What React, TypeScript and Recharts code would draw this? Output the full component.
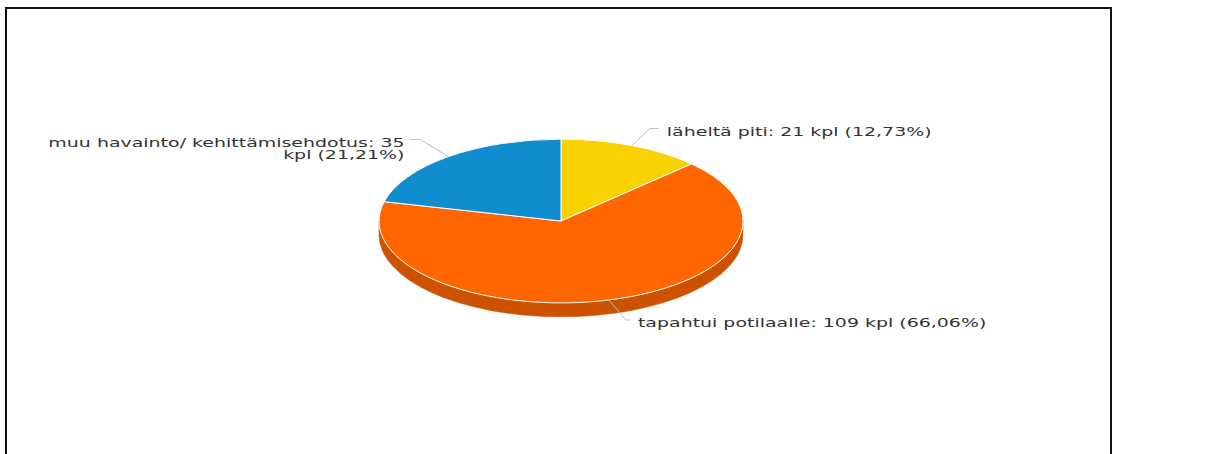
import React from 'react';
import { PieChart, Pie, Cell } from 'recharts';

// ---- data ----
const CATEGORIES = ['läheltä piti', 'tapahtui potilaalle', 'muu havainto/ kehittämisehdotus'];
const VALUES = [21, 109, 35];
const UNIT = 'kpl';

// ---- styles ----
const COLORS = ['#F9D100', '#FF6600', '#0F8DCE'];
const SIDE_COLORS = ['#C7A600', '#CC5200', '#0B6EA2'];
const TEXT_COLOR = '#333333';
const CONNECTOR_COLOR = '#bdbdbd';
const TILT = 0.45;
const DEPTH = 14;
const SX = 1.58;
const FONT = 12;
const LINE_H = 12.5;
const MAX_CHARS = 37;

const data = CATEGORIES.map((name, i) => ({ name, value: VALUES[i] }));
const TOTAL = VALUES.reduce((a, b) => a + b, 0);

const rad = (d: number) => (d * Math.PI) / 180;
const pt = (cx: number, cy: number, rx: number, ry: number, a: number): [number, number] => [
  cx + rx * Math.cos(rad(a)),
  cy - ry * Math.sin(rad(a)),
];

function Slice3D(props: any) {
  const { cx, cy, outerRadius, startAngle, endAngle } = props;
  let idx = typeof props.index === 'number' ? props.index : -1;
  const nm = props.payload?.name ?? props.name;
  if (idx < 0) idx = CATEGORIES.indexOf(nm);
  const rx = outerRadius;
  const ry = outerRadius * TILT;
  const s = Math.max(startAngle, endAngle);
  const e = Math.min(startAngle, endAngle);
  const [x1, y1] = pt(cx, cy, rx, ry, s);
  const [x2, y2] = pt(cx, cy, rx, ry, e);
  const large = s - e > 180 ? 1 : 0;
  const face = `M${cx},${cy} L${x1},${y1} A${rx},${ry} 0 ${large} 1 ${x2},${y2} Z`;

  const sides: string[] = [];
  const fronts: [number, number][] = [
    [-540, -360],
    [-180, 0],
    [180, 360],
  ];
  fronts.forEach(([A, B]) => {
    const lo = Math.max(e, A);
    const hi = Math.min(s, B);
    if (hi - lo > 0.01) {
      const [hx, hy] = pt(cx, cy, rx, ry, hi);
      const [lx, ly] = pt(cx, cy, rx, ry, lo);
      sides.push(
        `M${hx},${hy} A${rx},${ry} 0 0 1 ${lx},${ly} L${lx},${ly + DEPTH} A${rx},${ry} 0 0 0 ${hx},${hy + DEPTH} Z`
      );
    }
  });

  return (
    <g>
      {sides.map((d, i) => (
        <path key={i} d={d} fill={SIDE_COLORS[idx] ?? props.fill} stroke={SIDE_COLORS[idx] ?? props.fill} strokeWidth={0.5} />
      ))}
      <path d={face} fill={COLORS[idx] ?? props.fill} stroke="#ffffff" strokeWidth={1} strokeLinejoin="round" />
    </g>
  );
}

function wrap(text: string, max: number): string[] {
  const words = text.split(' ');
  const lines: string[] = [];
  let cur = '';
  words.forEach((w) => {
    const cand = cur ? cur + ' ' + w : w;
    if (cand.length > max && cur) {
      lines.push(cur);
      cur = w;
    } else cur = cand;
  });
  if (cur) lines.push(cur);
  return lines;
}

function renderLabel(props: any) {
  const { cx, cy, midAngle, outerRadius } = props;
  const name = props.payload?.name ?? props.name;
  const value = props.payload?.value ?? props.value;
  const pct = ((value / TOTAL) * 100).toFixed(2).replace('.', ',');
  const label = `${name}: ${value} ${UNIT} (${pct}%)`;
  const rx = outerRadius;
  const ry = outerRadius * TILT;
  const [ex, ey] = pt(cx, cy, rx, ry, midAngle);
  const right = Math.cos(rad(midAngle)) >= 0;
  const up = Math.sin(rad(midAngle)) >= 0;
  const s = right ? 1 : -1;
  const ly = ey + (up ? -17 : 20);
  const elbowDx = right ? (up ? 18 : 17) : 28;
  const horizDx = right ? (up ? 27 : 22) : 38;
  const textDx = right ? (up ? 35 : 29) : 44;
  const bx = ex + s * elbowDx;
  const hx = ex + s * horizDx;
  const tx = ex + s * textDx;
  const lines = wrap(label, MAX_CHARS);
  const baseline = ly + 3 + FONT * 0.36;
  return (
    <g>
      <polyline
        points={`${ex},${ey} ${bx},${ly} ${hx},${ly}`}
        fill="none"
        stroke={CONNECTOR_COLOR}
        strokeWidth={1}
      />
      <text
        transform={`translate(${tx},${baseline}) scale(${SX},1)`}
        textAnchor={right ? 'start' : 'end'}
        fontFamily="'DejaVu Sans', Verdana, sans-serif"
        fontSize={FONT}
        fill={TEXT_COLOR}
      >
        {lines.map((ln, i) => (
          <tspan key={i} x={0} dy={i === 0 ? 0 : LINE_H}>
            {ln}
          </tspan>
        ))}
      </text>
    </g>
  );
}

export default function App() {
  return (
    <div style={{ position: 'absolute', left: 0, top: 0, width: 1213, height: 454, overflow: 'hidden', background: '#fff' }}>
      <div
        style={{
          position: 'absolute',
          left: 5,
          top: 7,
          width: 1107,
          height: 520,
          border: '2px solid #111',
          boxSizing: 'border-box',
        }}
      />
      <div style={{ position: 'absolute', left: 0, top: 0 }}>
        <PieChart width={1213} height={454} margin={{ top: 0, right: 0, bottom: 0, left: 0 }}>
          <Pie
            data={data}
            dataKey="value"
            nameKey="name"
            cx={561}
            cy={221}
            outerRadius={182}
            startAngle={90}
            endAngle={-270}
            isAnimationActive={false}
            shape={Slice3D}
            label={renderLabel}
            labelLine={false}
            stroke="#ffffff"
          >
            {data.map((d, i) => (
              <Cell key={d.name} fill={COLORS[i]} />
            ))}
          </Pie>
        </PieChart>
      </div>
    </div>
  );
}
